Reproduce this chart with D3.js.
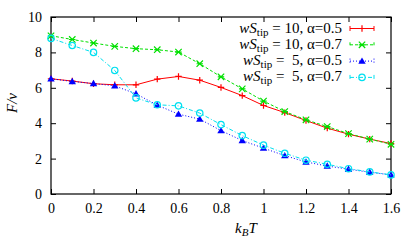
<!DOCTYPE html>
<html>
<head>
<meta charset="utf-8">
<script src="https://cdn.jsdelivr.net/npm/d3@7"></script>
<style>
  body { margin: 0; background: #fff; }
</style>
</head>
<body>
<div id="chart"></div>
<script>
// data
const kT = [0, 0.1, 0.2, 0.3, 0.4, 0.5, 0.6, 0.7, 0.8, 0.9, 1.0, 1.1, 1.2, 1.3, 1.4, 1.5, 1.6];
const ws10a05 = [6.51, 6.38, 6.23, 6.17, 6.17, 6.49, 6.64, 6.43, 6.02, 5.56, 5.0, 4.6, 4.15, 3.72, 3.38, 3.10, 2.85];
const ws10a07 = [8.94, 8.73, 8.53, 8.34, 8.21, 8.15, 8.02, 7.36, 6.62, 5.94, 5.25, 4.66, 4.19, 3.81, 3.41, 3.10, 2.81];
const ws5a05 = [6.51, 6.36, 6.24, 6.11, 5.66, 5.02, 4.51, 4.23, 3.58, 3.02, 2.59, 2.17, 1.81, 1.58, 1.40, 1.23, 1.08];
const ws5a07 = [8.79, 8.39, 8.0, 6.98, 5.43, 5.04, 4.98, 4.57, 3.92, 3.30, 2.76, 2.30, 1.91, 1.68, 1.43, 1.25, 1.08];
const xTicks = [0, 0.2, 0.4, 0.6, 0.8, 1, 1.2, 1.4, 1.6];
const yTicks = [0, 2, 4, 6, 8, 10];

const series = [
    { ws: "10", a: "0.5", values: ws10a05, color: "#ff0000", dash: null, marker: "plus" },
    { ws: "10", a: "0.7", values: ws10a07, color: "#00e000", dash: "3,2", marker: "star" },
    { ws: "\u00a05", a: "0.5", values: ws5a05, color: "#0000ff", dash: "1,2", marker: "tri" },
    { ws: "\u00a05", a: "0.7", values: ws5a07, color: "#00e0f0", dash: "4,2,1,2", marker: "circ" }
];

const FONT = "Liberation Serif";
const W = 407, H = 242;
const margin = { top: 17, right: 16, bottom: 48, left: 51 };
const width = W - margin.left - margin.right;
const height = H - margin.top - margin.bottom;

const svg = d3.select("#chart").append("svg")
    .attr("width", W)
    .attr("height", H)
    .attr("font-family", FONT);

const g = svg.append("g")
    .attr("transform", `translate(${margin.left}, ${margin.top})`);

const x = d3.scaleLinear().domain([0, 1.6]).range([0, width]);
const y = d3.scaleLinear().domain([0, 10]).range([height, 0]);

// axes, ticks point inwards on all four sides
const tickLen = 5;
function styleAxis(a) {
    a.attr("font-family", FONT).attr("font-size", 14);
    a.select(".domain").remove();
    a.selectAll(".tick line").attr("stroke", "#000");
    a.selectAll(".tick text").attr("fill", "#000");
}
g.append("g")
    .attr("transform", `translate(0, ${height})`)
    .call(d3.axisBottom(x).tickValues(xTicks).tickSize(-tickLen).tickPadding(9).tickFormat(d3.format("")))
    .call(styleAxis);
g.append("g")
    .call(d3.axisTop(x).tickValues(xTicks).tickSize(-tickLen).tickFormat(""))
    .call(styleAxis);
g.append("g")
    .call(d3.axisLeft(y).tickValues(yTicks).tickSize(-tickLen).tickPadding(9))
    .call(styleAxis);
g.append("g")
    .attr("transform", `translate(${width}, 0)`)
    .call(d3.axisRight(y).tickValues(yTicks).tickSize(-tickLen).tickFormat(""))
    .call(styleAxis);

g.append("rect")
    .attr("width", width).attr("height", height)
    .attr("fill", "none").attr("stroke", "#000").attr("stroke-width", 1.2);

// axis labels
svg.append("text")
    .attr("transform", `translate(17, 103) rotate(-90)`)
    .attr("text-anchor", "middle")
    .attr("font-size", 15)
    .attr("font-style", "italic")
    .text("F/v");

const xl = svg.append("text")
    .attr("x", 235)
    .attr("y", 233)
    .attr("font-size", 15)
    .attr("font-style", "italic");
xl.append("tspan").text("k");
xl.append("tspan").attr("font-size", 11).attr("dy", 3).text("B");
xl.append("tspan").attr("dy", -3).text("T");

function drawMarker(sel, type, color) {
    const r = 3.2;
    if (type === "plus") {
        sel.append("path").attr("d", `M${-r},0H${r}M0,${-r}V${r}`)
            .attr("stroke", color).attr("stroke-width", 1.2).attr("fill", "none");
    } else if (type === "star") {
        sel.append("path").attr("d", `M${-r},${-r}L${r},${r}M${-r},${r}L${r},${-r}M${-r},0H${r}`)
            .attr("stroke", color).attr("stroke-width", 1.2).attr("fill", "none");
    } else if (type === "tri") {
        sel.append("path").attr("d", `M0,${-r - 0.5}L${r + 0.5},${r - 0.5}L${-r - 0.5},${r - 0.5}Z`)
            .attr("fill", color);
    } else {
        sel.append("circle").attr("r", r)
            .attr("stroke", color).attr("stroke-width", 1.2).attr("fill", "none");
    }
}

const line = d3.line()
    .x((d, i) => x(kT[i]))
    .y(d => y(d));

series.forEach(s => {
    g.append("path")
        .datum(s.values)
        .attr("d", line)
        .attr("fill", "none")
        .attr("stroke", s.color)
        .attr("stroke-width", 1)
        .attr("stroke-dasharray", s.dash);

    g.selectAll(null)
        .data(s.values)
        .enter()
        .append("g")
        .attr("transform", (d, i) => `translate(${x(kT[i])}, ${y(d)})`)
        .each(function () { drawMarker(d3.select(this), s.marker, s.color); });
});

// legend
const legend = svg.append("g");
series.forEach((s, i) => {
    const ly = 28.5 + i * 16.3;
    const t = legend.append("text")
        .attr("x", 342)
        .attr("y", ly + 4)
        .attr("text-anchor", "end")
        .attr("font-size", 15);
    t.append("tspan").attr("font-style", "italic").text("wS");
    t.append("tspan").attr("font-size", 11).attr("dy", 3).text("tip");
    t.append("tspan").attr("dy", -3).text(` = ${s.ws}, α=${s.a}`);

    legend.append("path")
        .attr("d", `M350,${ly}H374M350,${ly - 2.5}V${ly + 2.5}M374,${ly - 2.5}V${ly + 2.5}`)
        .attr("stroke", s.color)
        .attr("stroke-width", 1)
        .attr("fill", "none")
        .attr("stroke-dasharray", s.dash);
    const m = legend.append("g").attr("transform", `translate(362, ${ly})`);
    drawMarker(m, s.marker, s.color);
});
</script>
</body>
</html>
